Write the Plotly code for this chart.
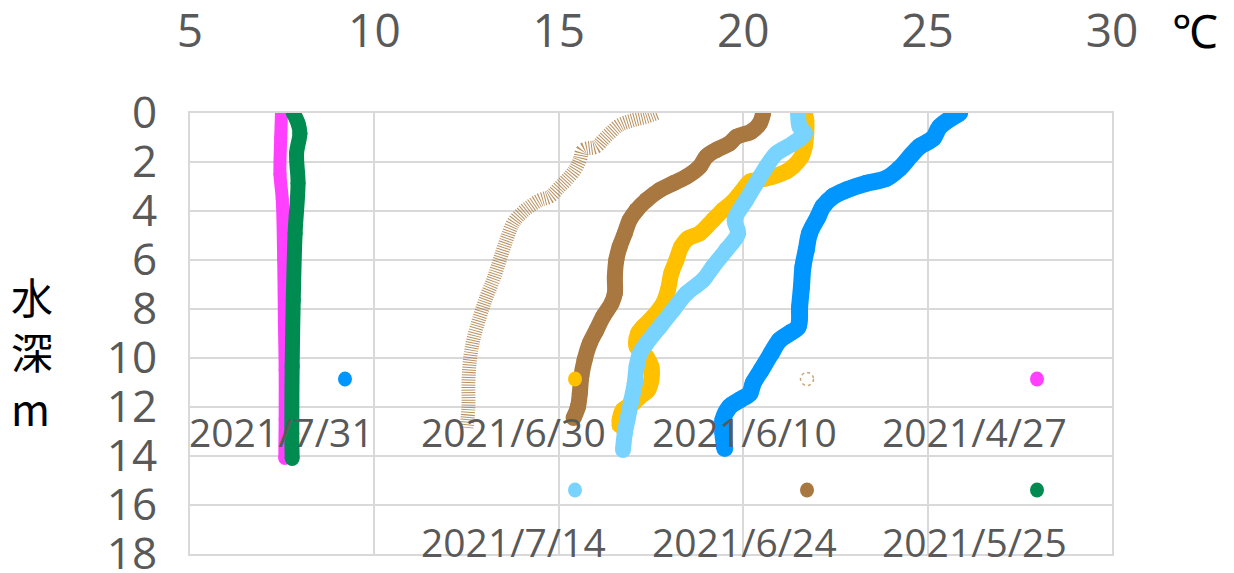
import plotly.graph_objects as go

# ---- data (temperature ℃ vs depth m) ----
t_0610 = [17.65, 17.38, 17.02, 16.65, 16.38, 16.20, 16.02, 15.66, 15.57, 15.43, 15.21, 15.03, 14.76, 14.49,
          14.21, 13.99, 13.76, 13.58, 13.40, 13.22, 13.04, 12.86, 12.68, 12.59, 12.55, 12.55, 12.50]
d_0610 = [0, 0.15, 0.29, 0.49, 0.83, 1.10, 1.37, 1.51, 1.92, 2.33, 2.73, 3.01, 3.41, 3.55,
          3.82, 4.09, 4.50, 5.18, 6.00, 6.82, 7.50, 8.31, 9.27, 10.08, 11.03, 11.99, 12.85]

t_0624 = [20.54, 20.45, 20.22, 19.82, 19.63, 19.27, 19.00, 18.82, 18.46, 18.10, 17.74, 17.38, 17.11, 16.92,
          16.79, 16.65, 16.56, 16.52, 16.52, 16.43, 16.20, 16.02, 15.84, 15.70, 15.61, 15.57, 15.52, 15.40]
d_0624 = [0, 0.42, 0.76, 0.97, 1.24, 1.51, 1.78, 2.19, 2.60, 2.87, 3.14, 3.55, 3.96, 4.37,
          4.91, 5.46, 6.00, 6.68, 7.36, 7.77, 8.31, 8.86, 9.40, 10.08, 10.76, 11.44, 11.99, 12.45]

t_0630 = [21.67, 21.71, 21.71, 21.67, 21.58, 21.35, 21.17, 20.81, 20.45, 20.18, 19.95, 19.72, 19.45, 19.18,
          18.82, 18.51, 18.32, 18.19, 18.05, 17.96, 17.83, 17.56, 17.29, 17.15, 17.11, 17.38, 17.51, 17.51,
          17.42, 17.20, 17.02, 16.74, 16.65, 16.65]
d_0630 = [0, 0.30, 0.83, 1.37, 1.78, 2.19, 2.39, 2.60, 2.73, 2.80, 3.21, 3.62, 3.96, 4.37,
          4.91, 5.11, 5.46, 6.00, 6.54, 7.22, 7.77, 8.31, 8.72, 8.99, 9.54, 9.95, 10.35, 10.90,
          11.31, 11.58, 11.85, 12.12, 12.53, 12.75]

t_0714 = [21.49, 21.53, 21.67, 21.35, 20.90, 20.63, 20.35, 20.08, 19.77, 19.86, 19.54, 19.18, 18.91, 18.46,
          18.10, 17.74, 17.38, 17.20, 17.11, 17.06, 16.97, 16.88, 16.79, 16.74]
d_0714 = [0, 0.56, 0.83, 1.24, 1.65, 2.19, 2.87, 3.55, 4.37, 4.91, 5.59, 6.27, 6.82, 7.36,
          8.04, 8.72, 9.40, 9.81, 10.35, 11.03, 11.71, 12.40, 13.07, 13.76]

t_0731 = [25.87, 25.33, 25.15, 24.78, 24.56, 24.24, 23.88, 23.34, 22.80, 22.43, 22.16, 22.03, 21.80, 21.71,
          21.62, 21.58, 21.53, 21.49, 21.26, 20.99, 20.76, 20.49, 20.27, 20.18, 19.91, 19.63, 19.45, 19.45, 19.50]
d_0731 = [0, 0.56, 1.03, 1.37, 1.71, 2.26, 2.67, 2.87, 3.14, 3.41, 3.82, 4.23, 4.91, 5.59,
          6.27, 7.09, 7.90, 8.72, 8.99, 9.27, 9.81, 10.49, 11.03, 11.44, 11.71, 11.99, 12.53, 13.07, 13.69]

t_0427 = [7.48, 7.46, 7.44, 7.50, 7.54, 7.56, 7.58, 7.58, 7.57]
d_0427 = [0, 1.0, 2.5, 3.5, 6.0, 8.5, 10.5, 12.5, 14.1]

t_0525 = [7.80, 7.93, 7.98, 7.89, 7.93, 7.85, 7.80, 7.77, 7.76, 7.77]
d_0525 = [0, 0.42, 0.83, 1.65, 2.87, 4.91, 7.63, 10.35, 13.07, 14.1]

x_ticks = [5, 10, 15, 20, 25, 30]
y_ticks = [0, 2, 4, 6, 8, 10, 12, 14, 16, 18]

C_BLUE = "#0096FF"
C_LBLUE = "#78D4FF"
C_YELLOW = "#FFC000"
C_BROWN = "#A87840"
C_DOT = "rgba(166,117,56,0.8)"
C_MAGENTA = "#FF40FF"
C_GREEN = "#008C50"

fig = go.Figure()

fig.add_trace(go.Scatter(x=t_0610, y=d_0610, mode="lines", name="2021/6/10",
                         line=dict(color=C_DOT, width=14, dash="1px,1.5px", shape="spline")))

def solid(x, y, name, color, w):
    fig.add_trace(go.Scatter(x=x, y=y, mode="lines+markers", name=name,
                             line=dict(color=color, width=w, shape="spline"),
                             marker=dict(color=color, size=w)))

solid(t_0624, d_0624, "2021/6/24", C_BROWN, 16)
solid(t_0630, d_0630, "2021/6/30", C_YELLOW, 16)
solid(t_0714, d_0714, "2021/7/14", C_LBLUE, 16)
solid(t_0731, d_0731, "2021/7/31", C_BLUE, 17)
solid(t_0427, d_0427, "2021/4/27", C_MAGENTA, 13)
solid(t_0525, d_0525, "2021/5/25", C_GREEN, 15)

# ---- custom legend (marker above right, label below) ----
# screen-pixel helpers for the plot area (page body adds an 8px offset)
L, T, W, H = 190, 113, 922, 441
def px(x): return (x - L) / W
def py(y): return 1 - (y - T) / H

legend_items = [
    ("2021/7/31", C_BLUE, 345, 379, 281, 431, False),
    ("2021/6/30", C_YELLOW, 575, 379, 513, 431, False),
    ("2021/6/10", "#C9A27A", 807, 379, 744, 431, True),
    ("2021/4/27", C_MAGENTA, 1037, 379, 974, 431, False),
    ("2021/7/14", C_LBLUE, 575, 490, 513, 541, False),
    ("2021/6/24", C_BROWN, 807, 490, 744, 541, False),
    ("2021/5/25", C_GREEN, 1037, 490, 974, 541, False),
]
shapes = []
annotations = []
for label, col, mx, my, lx, ly, dotted in legend_items:
    if dotted:
        shapes.append(dict(type="circle", xref="paper", yref="paper", xsizemode="pixel", ysizemode="pixel",
                           xanchor=px(mx), yanchor=py(my), x0=-6.5, x1=6.5, y0=-6.5, y1=6.5,
                           line=dict(color=col, width=1.5, dash="dot"), fillcolor="rgba(0,0,0,0)"))
    else:
        shapes.append(dict(type="circle", xref="paper", yref="paper", xsizemode="pixel", ysizemode="pixel",
                           xanchor=px(mx), yanchor=py(my), x0=-7, x1=7, y0=-7.5, y1=7.5,
                           line=dict(width=0), fillcolor=col))
    annotations.append(dict(text=label, xref="paper", yref="paper", x=px(lx), y=py(ly),
                            xanchor="center", yanchor="middle", showarrow=False,
                            font=dict(family="Open Sans", size=39, color="#595959")))

annotations += [
    dict(text="℃", xref="paper", yref="paper", x=px(1195), y=py(32), xanchor="center", yanchor="middle",
         showarrow=False, font=dict(family="Liberation Serif", size=46, color="#000000")),
    dict(text="水", xref="paper", yref="paper", x=px(32), y=py(295), xanchor="center", yanchor="middle",
         showarrow=False, font=dict(family="Noto Sans CJK JP", size=42, color="#000000")),
    dict(text="深", xref="paper", yref="paper", x=px(32), y=py(350), xanchor="center", yanchor="middle",
         showarrow=False, font=dict(family="Noto Sans CJK JP", size=42, color="#000000")),
    dict(text="m", xref="paper", yref="paper", x=px(30), y=py(407), xanchor="center", yanchor="middle",
         showarrow=False, font=dict(family="Noto Sans CJK JP", size=42, color="#000000")),
]

fig.update_layout(
    width=1226, height=565,
    margin=dict(l=182, r=122, t=105, b=19, autoexpand=False),
    paper_bgcolor="white", plot_bgcolor="white",
    showlegend=False,
    shapes=shapes, annotations=annotations,
    xaxis=dict(range=[5, 30], side="top", tickvals=x_ticks, ticktext=[str(v) for v in x_ticks],
               automargin=False, ticklabeloverflow="allow",
               showgrid=True, gridcolor="#D9D9D9", gridwidth=2, zeroline=False,
               showline=True, linecolor="#D9D9D9", linewidth=2, mirror=True,
               ticks="", ticklabelstandoff=46,
               tickfont=dict(family="Open Sans", size=46, color="#595959")),
    yaxis=dict(range=[18, 0], tickvals=y_ticks, ticktext=[str(v) for v in y_ticks],
               automargin=False, ticklabeloverflow="allow",
               showgrid=True, gridcolor="#D9D9D9", gridwidth=2, zeroline=False,
               showline=True, linecolor="#D9D9D9", linewidth=2, mirror=True,
               ticks="", ticklabelstandoff=22,
               tickfont=dict(family="Open Sans", size=44, color="#595959")),
)

fig.write_html("out.html")
